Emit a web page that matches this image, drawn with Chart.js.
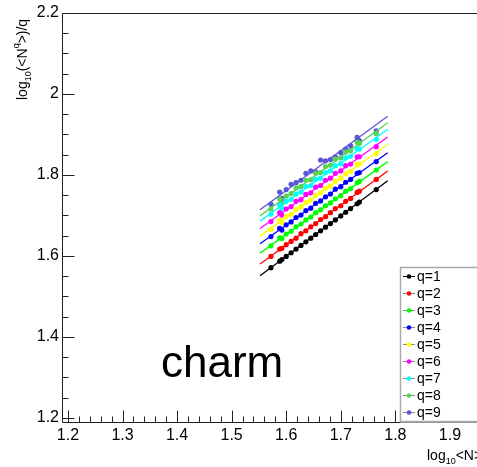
<!DOCTYPE html>
<html>
<head>
<meta charset="utf-8">
<script src="https://cdn.jsdelivr.net/npm/chart.js@4"></script>
<style>
html, body { margin: 0; padding: 0; background: #fff; }
</style>
</head>
<body>
<canvas id="chart" width="477" height="467"></canvas>
<script>
// log10<N> for every point (same for all q)
const logN = [1.572, 1.588, 1.592, 1.600, 1.609, 1.618, 1.627, 1.636, 1.645, 1.654,
              1.663, 1.672, 1.681, 1.690, 1.700, 1.709, 1.718, 1.730, 1.734, 1.765];

// log10(<N^q>)/q per q
const q1 = [1.571, 1.587, 1.591, 1.599, 1.608, 1.617, 1.626, 1.635, 1.644, 1.653, 1.662, 1.671, 1.680, 1.689, 1.699, 1.708, 1.717, 1.729, 1.733, 1.764];
const q2 = [1.599, 1.617, 1.619, 1.628, 1.636, 1.644, 1.655, 1.662, 1.672, 1.680, 1.690, 1.697, 1.707, 1.717, 1.724, 1.735, 1.742, 1.757, 1.760, 1.789];
const q3 = [1.625, 1.645, 1.643, 1.654, 1.661, 1.672, 1.679, 1.689, 1.696, 1.707, 1.714, 1.724, 1.731, 1.741, 1.749, 1.760, 1.766, 1.781, 1.784, 1.812];
const q4 = [1.648, 1.668, 1.664, 1.677, 1.684, 1.695, 1.701, 1.712, 1.718, 1.730, 1.736, 1.746, 1.753, 1.765, 1.771, 1.782, 1.789, 1.804, 1.806, 1.833];
const q5 = [1.666, 1.688, 1.683, 1.697, 1.703, 1.715, 1.721, 1.732, 1.738, 1.750, 1.756, 1.767, 1.773, 1.785, 1.792, 1.803, 1.809, 1.826, 1.827, 1.853];
const q6 = [1.685, 1.707, 1.701, 1.716, 1.722, 1.735, 1.739, 1.752, 1.756, 1.770, 1.774, 1.787, 1.792, 1.804, 1.810, 1.823, 1.827, 1.845, 1.845, 1.870];
const q7 = [1.703, 1.726, 1.718, 1.735, 1.740, 1.753, 1.758, 1.771, 1.774, 1.789, 1.792, 1.806, 1.810, 1.823, 1.828, 1.842, 1.846, 1.865, 1.864, 1.888];
const q8 = [1.716, 1.741, 1.730, 1.748, 1.754, 1.768, 1.771, 1.787, 1.788, 1.804, 1.806, 1.821, 1.824, 1.839, 1.842, 1.857, 1.860, 1.881, 1.878, 1.902];
const q9 = [1.728, 1.758, 1.742, 1.764, 1.777, 1.781, 1.787, 1.804, 1.810, 1.808, 1.837, 1.835, 1.838, 1.845, 1.855, 1.864, 1.872, 1.893, 1.885, 1.909];

const series = [q1, q2, q3, q4, q5, q6, q7, q8, q9];
const labels = ['q=1', 'q=2', 'q=3', 'q=4', 'q=5', 'q=6', 'q=7', 'q=8', 'q=9'];
const colors = ['#000000', '#ff0000', '#00ff00', '#0000ff', '#ffff00', '#ff00ff', '#00ffff', '#59d354', '#5954d8'];

// linear fits: x range and y at both ends
const fitX = [1.552, 1.786];
const fitStart = [1.551, 1.580, 1.607, 1.630, 1.649, 1.668, 1.686, 1.699, 1.714];
const fitEnd   = [1.786, 1.810, 1.833, 1.855, 1.876, 1.894, 1.913, 1.929, 1.945];

const xTicks = [1.2, 1.3, 1.4, 1.5, 1.6, 1.7, 1.8, 1.9];
const yTicks = [1.2, 1.4, 1.6, 1.8, 2.0, 2.2];

const FONT = "'Liberation Sans', Arial, Helvetica, sans-serif";

const datasets = [];
series.forEach((ys, i) => {
    datasets.push({
        label: 'fit ' + labels[i],
        data: fitX.map((x, k) => ({ x: x, y: k === 0 ? fitStart[i] : fitEnd[i] })),
        showLine: true,
        borderColor: colors[i],
        borderWidth: 1.3,
        pointRadius: 0,
        fill: false
    });
});
series.forEach((ys, i) => {
    datasets.push({
        label: labels[i],
        data: ys.map((y, k) => ({ x: logN[k], y: y })),
        showLine: false,
        pointRadius: 2.6,
        pointBorderWidth: 0,
        pointBackgroundColor: colors[i],
        borderColor: colors[i]
    });
});

// ROOT-like frame, inward ticks, titles, legend and label
const rootStyle = {
    id: 'rootStyle',
    beforeDraw(chart) {
        const ctx = chart.ctx;
        ctx.save();
        ctx.fillStyle = '#fff';
        ctx.fillRect(0, 0, chart.width, chart.height);
        ctx.restore();
    },
    afterDraw(chart) {
        const ctx = chart.ctx;
        const a = chart.chartArea;
        const xs = chart.scales.x, ys = chart.scales.y;
        const L = Math.round(a.left) + 0.5, B = Math.round(a.bottom) + 0.5, T = Math.round(a.top) + 0.5;
        ctx.save();
        ctx.strokeStyle = '#222';
        ctx.lineWidth = 1;
        ctx.beginPath();
        ctx.moveTo(L, T); ctx.lineTo(chart.width, T);
        ctx.moveTo(L, T); ctx.lineTo(L, B);
        ctx.moveTo(L, B); ctx.lineTo(chart.width, B);
        // x ticks
        for (let v = 1.18; v <= xs.max + 1e-9; v += 0.02) {
            if (v < xs.min) continue;
            const major = Math.abs(v * 10 - Math.round(v * 10)) < 1e-6;
            const px = Math.round(xs.getPixelForValue(v)) + 0.5;
            ctx.moveTo(px, B); ctx.lineTo(px, B - (major ? 12 : 6));
        }
        // y ticks
        for (let v = 1.2; v <= ys.max + 1e-9; v += 0.05) {
            const major = Math.abs(v * 5 - Math.round(v * 5)) < 1e-6;
            const py = Math.round(ys.getPixelForValue(v)) + 0.5;
            ctx.moveTo(L, py); ctx.lineTo(L + (major ? 12 : 6), py);
        }
        ctx.stroke();

        // y title: log10(<N^q>)/q
        ctx.fillStyle = '#000';
        ctx.textBaseline = 'alphabetic';
        ctx.translate(27, 100);
        ctx.rotate(-Math.PI / 2);
        let cx = 0;
        const piece = (t, size, dy) => {
            ctx.font = size + 'px ' + FONT;
            ctx.fillText(t, cx, dy);
            cx += ctx.measureText(t).width;
        };
        piece('log', 14, 0);
        piece('10', 9, 4);
        piece('(<N', 14, 0);
        piece('q', 9, -8);
        piece('>)/q', 14, 0);
        ctx.setTransform(1, 0, 0, 1, 0, 0);

        // x title: log10<N>
        cx = 427;
        const piece2 = (t, size, y) => {
            ctx.font = size + 'px ' + FONT;
            ctx.fillText(t, cx, y);
            cx += ctx.measureText(t).width;
        };
        piece2('log', 14, 460);
        piece2('10', 9, 464);
        piece2('<N>', 14, 460);

        // big label
        ctx.font = '44px ' + FONT;
        ctx.fillText('charm', 161, 377);

        // legend
        const lx = 400.5, ly = 267.5;
        ctx.fillStyle = '#fff';
        ctx.fillRect(lx, ly, chart.width - lx, B - ly);
        ctx.strokeStyle = '#aaa';
        ctx.lineWidth = 1.5;
        ctx.strokeRect(lx, ly, 200, B - ly - 1);
        ctx.font = '14px ' + FONT;
        ctx.textBaseline = 'middle';
        labels.forEach((lab, i) => {
            const yy = 276.5 + i * 17;
            ctx.strokeStyle = i === 0 ? '#000' : '#888';
            ctx.lineWidth = 1;
            ctx.beginPath();
            ctx.moveTo(403, yy); ctx.lineTo(415, yy);
            ctx.stroke();
            ctx.fillStyle = colors[i];
            ctx.beginPath();
            ctx.arc(409, yy, 2.3, 0, Math.PI * 2);
            ctx.fill();
            ctx.fillStyle = '#000';
            ctx.fillText(lab, 417, yy + 1);
        });
        ctx.restore();
    }
};

new Chart(document.getElementById('chart'), {
    type: 'scatter',
    data: { datasets: datasets },
    options: {
        responsive: false,
        animation: false,
        devicePixelRatio: 1,
        layout: { padding: { top: 13, right: 0, left: 0, bottom: 0 } },
        plugins: { legend: { display: false }, tooltip: { enabled: false } },
        scales: {
            x: {
                type: 'linear',
                min: 1.1891,
                max: 1.9423,
                grid: { display: false, drawTicks: false },
                border: { display: false },
                afterBuildTicks: s => { s.ticks = xTicks.map(v => ({ value: v })); },
                afterFit: s => { s.height = 45; },
                ticks: {
                    autoSkip: false, maxRotation: 0, padding: 4, color: '#000',
                    font: { family: FONT, size: 16 },
                    callback: v => (+v).toFixed(1)
                }
            },
            y: {
                type: 'linear',
                min: 1.190,
                max: 2.2,
                grid: { display: false, drawTicks: false },
                border: { display: false },
                afterBuildTicks: s => { s.ticks = yTicks.map(v => ({ value: v })); },
                afterFit: s => { s.width = 62; },
                ticks: {
                    autoSkip: false, padding: 3, color: '#000',
                    font: { family: FONT, size: 16 },
                    callback: v => String(+(+v).toFixed(1))
                }
            }
        }
    },
    plugins: [rootStyle]
});
</script>
</body>
</html>
